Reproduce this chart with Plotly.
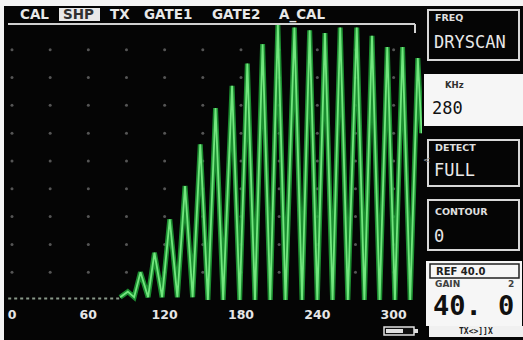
import plotly.graph_objects as go

# ---------------- data ----------------
# A-scan echo envelope (full-wave rectified), x in screen units, y in % screen height
peak_x = [91, 101, 112, 124, 136, 148, 160, 173, 185, 197, 209, 222, 234, 246, 258, 271, 283, 295, 307, 319]
peak_y = [3, 10, 17, 29, 41, 56, 69, 77, 85, 92, 99, 98, 97, 96, 98, 98, 95, 91, 91, 87]
trough_x = [85, 96, 107, 118, 130, 142, 154, 166, 179, 191, 203, 215, 228, 240, 252, 264, 277, 289, 301, 313]
trough_y = [1, 1, 1, 1, 1, 1, 0, 0, 0, 0, 0, 0, 0, 0, 0, 0, 0, 0, 0, 0]
end_x, end_y = 322, 60

baseline_x = [-3, 85]
baseline_y = [0.5, 0.5]

x_ticks = [0, 60, 120, 180, 240, 300]
x_tick_labels = ["0", "60", "120", "180", "240", "300"]
grid_x = [0, 30, 60, 90, 120, 150, 180, 210, 240, 270, 300]
grid_y = [10, 20, 30, 40, 50, 60, 70, 80, 90]

header_words = ["CAL", "SHP", "TX", "GATE1", "GATE2", "A_CAL"]
panel_freq = ("FREQ", "DRYSCAN")
panel_khz = ("KHz", "280")
panel_detect = ("DETECT", "FULL")
panel_contour = ("CONTOUR", "0")
panel_ref = "REF 40.0"
panel_gain = ("GAIN", "2", "40. 0")
panel_footer = "TX<>]]X"

# ---------------- build signal ----------------
sig_x, sig_y = [], []
for tx, ty, px_, py_ in zip(trough_x, trough_y, peak_x, peak_y):
    sig_x += [tx, px_]
    sig_y += [ty, py_]
sig_x.append(end_x)
sig_y.append(end_y)

W, H = 523, 340
L, R, T, B = 8, 101, 20, 35
PW, PH = W - L - R, H - T - B


def px(xp):
    return (xp - L) / PW


def py(yp):
    return (H - B - yp) / PH


fig = go.Figure()

# grid dots
gx, gy = [], []
for yv in grid_y:
    for xv in grid_x:
        gx.append(xv)
        gy.append(yv)
fig.add_trace(go.Scatter(x=gx, y=gy, mode="markers",
                         marker=dict(size=3, color="#555555"), hoverinfo="skip"))

# dotted baseline
fig.add_trace(go.Scatter(x=baseline_x, y=baseline_y, mode="lines",
                         line=dict(color="#8a9a8a", width=2, dash="dot"), hoverinfo="skip"))

# glow + signal
fig.add_trace(go.Scatter(x=sig_x, y=sig_y, mode="lines",
                         line=dict(color="rgba(30,165,55,0.85)", width=5), hoverinfo="skip"))
fig.add_trace(go.Scatter(x=sig_x, y=sig_y, mode="lines",
                         line=dict(color="#72e67e", width=1.8), hoverinfo="skip"))

shapes = []
# top gate line with hook
shapes.append(dict(type="line", xref="paper", yref="paper", x0=px(8), x1=px(415),
                   y0=py(24), y1=py(24), line=dict(color="#d0d0d0", width=2)))
shapes.append(dict(type="line", xref="paper", yref="paper", x0=px(415), x1=px(415),
                   y0=py(24), y1=py(33), line=dict(color="#d0d0d0", width=2)))
# white photo border top and left
shapes.append(dict(type="rect", xref="paper", yref="paper", x0=px(0), x1=px(523),
                   y0=py(0), y1=py(6), fillcolor="#f4f4f4", line=dict(width=0), layer="above"))
shapes.append(dict(type="rect", xref="paper", yref="paper", x0=px(0), x1=px(4),
                   y0=py(0), y1=py(340), fillcolor="#f4f4f4", line=dict(width=0), layer="above"))

# SHP highlight box
shapes.append(dict(type="rect", xref="paper", yref="paper", x0=px(59), x1=px(100),
                   y0=py(8), y1=py(21), fillcolor="#e8e8e8", line=dict(width=0)))


def box(x0, y0, x1, y1, fill, line="#d8d8d8", lw=2):
    shapes.append(dict(type="rect", xref="paper", yref="paper", x0=px(x0), x1=px(x1),
                       y0=py(y0), y1=py(y1), fillcolor=fill, line=dict(color=line, width=lw)))


box(428, 10, 519, 60, "#050505")
box(425, 75, 523, 125, "#f6f6f6", line="#f6f6f6")
box(428, 140, 519, 186, "#050505")
box(428, 200, 519, 250, "#050505")
box(427, 262, 521, 325, "#f6f6f6", line="#f6f6f6")
box(430, 264, 519, 278, "#f6f6f6", line="#202020", lw=1.5)
box(430, 327, 523, 336, "#f0f0f0", line="#f0f0f0")
# battery icon
box(384, 327, 414, 335, "#101010", line="#e0e0e0", lw=1.5)
box(386, 329, 403, 333, "#e0e0e0", line="#e0e0e0", lw=0)
box(414, 329, 418, 333, "#e0e0e0", line="#e0e0e0", lw=0)

annotations = []


def txt(x, y, s, size, color, family="DejaVu Sans", bold=True, anchor="left"):
    annotations.append(dict(xref="paper", yref="paper", x=px(x), y=py(y),
                            text=f"<b>{s}</b>" if bold else s, showarrow=False,
                            xanchor=anchor, yanchor="middle",
                            font=dict(size=size, color=color, family=family)))


header_pos = [18, 61, 108, 142, 210, 277]
for w, xp in zip(header_words, header_pos):
    txt(xp, 14.5, w, 13.5, "#303030" if w == "SHP" else "#e8e8e8")

mono = "DejaVu Sans Mono"
txt(433, 18, panel_freq[0], 9.5, "#e0e0e0")
txt(432, 42, panel_freq[1], 17, "#e8e8e8", family=mono, bold=False)
txt(443, 85, panel_khz[0], 8.5, "#303030")
txt(430, 108, panel_khz[1], 17, "#111111", family=mono, bold=False)
txt(433, 147, panel_detect[0], 9.5, "#e0e0e0")
txt(432, 170, panel_detect[1], 17, "#e8e8e8", family=mono, bold=False)
txt(433, 211, panel_contour[0], 9.5, "#e0e0e0")
txt(432, 236, panel_contour[1], 17, "#e8e8e8", family=mono, bold=False)
txt(434, 271, panel_ref, 10, "#202020")
txt(433, 284, panel_gain[0], 9, "#404040")
txt(516, 284, panel_gain[1], 9, "#404040", anchor="right")
txt(474, 305, panel_gain[2], 27, "#101010", family=mono, anchor="center")
txt(476, 331, panel_footer, 8, "#202020", family=mono, anchor="center")
txt(421, 160, "&lt;", 9, "#909090", bold=False)

fig.update_layout(
    width=W, height=H,
    margin=dict(l=L, r=R, t=T, b=B),
    paper_bgcolor="#050505", plot_bgcolor="#050505",
    showlegend=False,
    shapes=shapes, annotations=annotations,
    xaxis=dict(range=[-3.14, 322.3], tickvals=x_ticks,
               ticktext=[f"<b>{t}</b>" for t in x_tick_labels],
               tickfont=dict(size=12.5, color="#e6e6e6", family="DejaVu Sans"),
               showgrid=False, zeroline=False, showline=False, ticks="", ticklen=0),
    yaxis=dict(range=[-1.8, 100.7], visible=False, showgrid=False, zeroline=False),
)

fig.write_html("out.html", config={"displayModeBar": False},
               post_script="document.body.style.margin='0';document.body.style.overflow='hidden';")
